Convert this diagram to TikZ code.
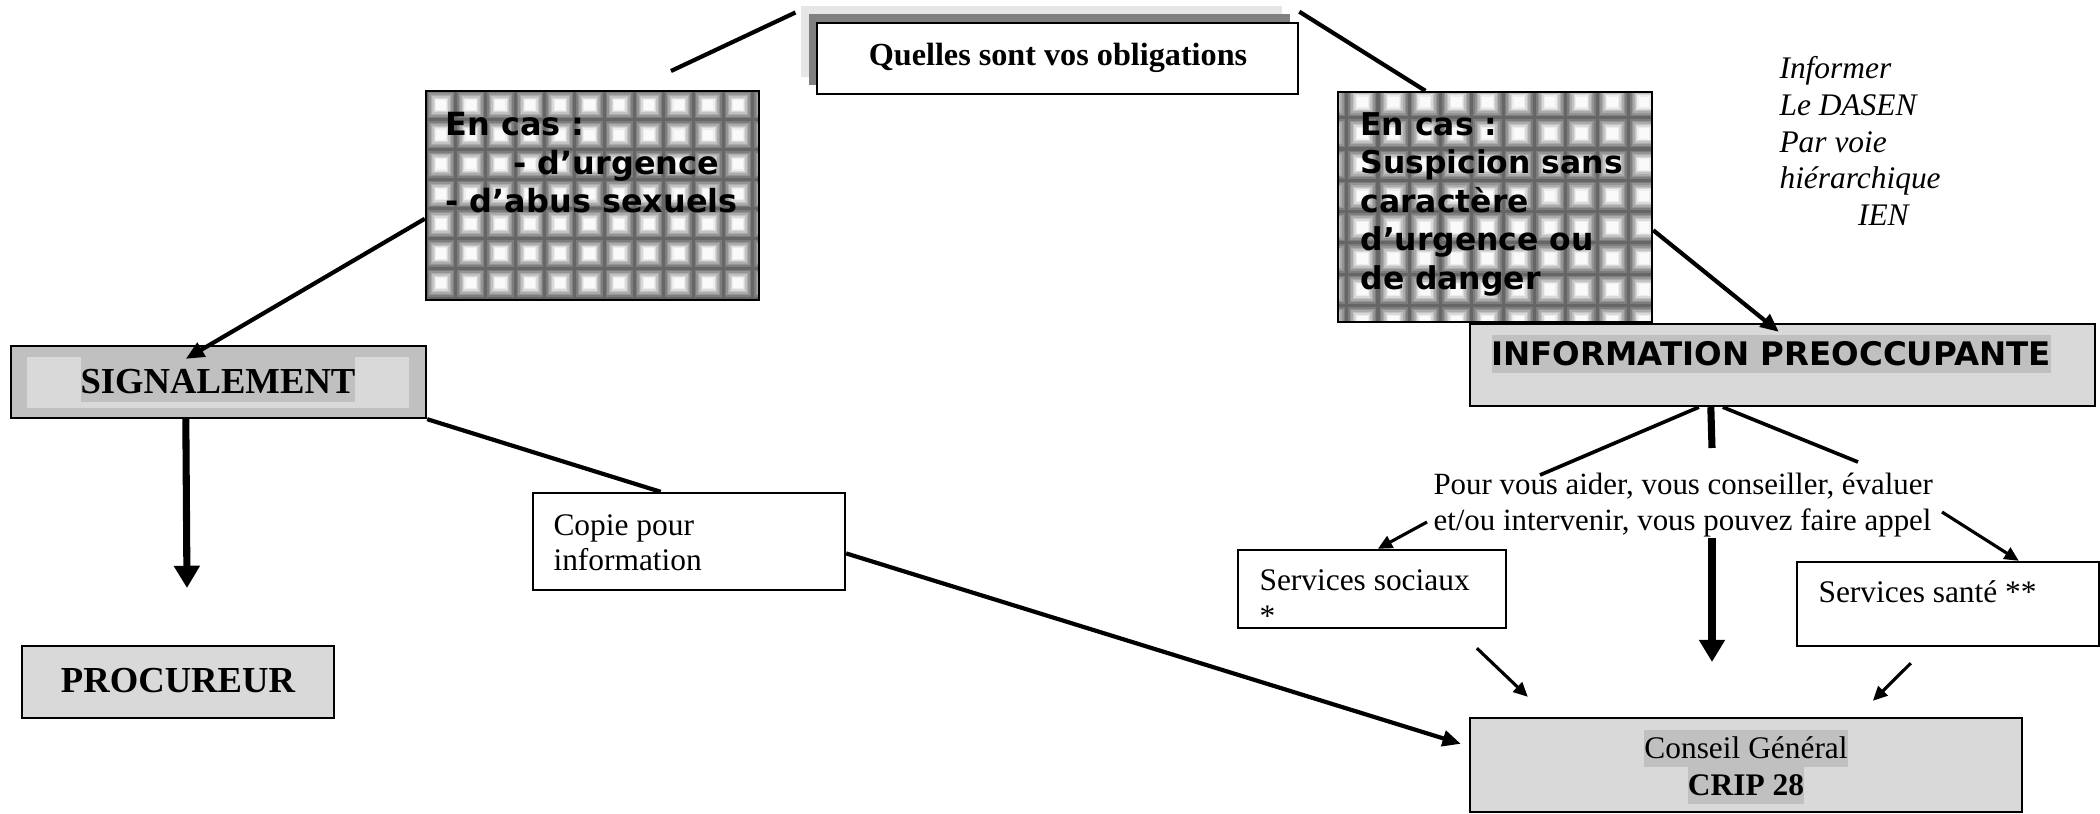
\documentclass[tikz,border=0pt]{standalone}
\usepackage{fontspec}
\setmainfont{Liberation Serif}
\newfontfamily\verd{DejaVu Sans}
\usetikzlibrary{arrows.meta,calc,fit}
\definecolor{gA}{RGB}{192,192,192}
\definecolor{gB}{RGB}{217,217,217}
\definecolor{gL}{RGB}{230,230,230}
\definecolor{gD}{RGB}{128,128,128}
\newcommand{\tp}{\vrule height 10pt depth 0pt width 0pt}
\newcommand{\hlbox}[3]{{\setlength{\fboxsep}{0pt}\colorbox{gA}{\vrule height #1 depth #2 width 0pt #3}}}
\newcommand{\tilegrid}[5]{%
  \foreach \ii in {0,...,#4} {%
    \foreach \jj in {0,...,#5} {%
      \pgfmathsetmacro{\cx}{#1+#3*\ii}%
      \pgfmathsetmacro{\cy}{#2+#3*\jj}%
      \foreach \hh/\cc in {0.5/60,0.45/51,0.40/42,0.35/33,0.30/24,0.25/15,0.21/7,0.17/2} {%
        \fill[black!\cc] (\cx-\hh*#3,\cy-\hh*#3) rectangle (\cx+\hh*#3,\cy+\hh*#3);
      }%
    }%
  }%
}
\tikzset{
  bx/.style={draw, line width=0.9pt, inner sep=0pt},
  txt/.style={inner sep=0pt, font=\fontsize{12}{13.9}\selectfont},
  conn/.style={line width=1.6pt},
  arr/.style={line width=1.6pt, -{Triangle[length=7pt,width=6pt]}},
  tarr/.style={line width=2.7pt, -{Triangle[length=8.5pt,width=9.5pt]}},
  sarr/.style={line width=1.2pt, -{Triangle[length=5.5pt,width=5pt]}},
}
\begin{document}
\begin{tikzpicture}[x=0.382pt,y=-0.382pt]
\useasboundingbox (0,0) rectangle (2100,813);

% ---- title
\node[inner sep=0pt, fill=gL, fit={(801,6)(1282,77)}] (tshL) {};
\node[inner sep=0pt, fill=gD, fit={(809,14)(1290,85)}] (tshD) {};
\node[bx, fill=white, line width=1pt, fit={(817,23)(1298,94)}] (title) {};
\node[inner sep=0pt, anchor=base, font=\fontsize{12.3}{14}\selectfont\bfseries] (ttxt) at (1058,65) {Quelles sont vos obligations};

% ---- left pattern box
\begin{scope}
  \clip (426,91) rectangle (759,300);
  \fill[black!60] (426,91) rectangle (759,300);
  \tilegrid{441}{105}{29.7}{11}{7}
\end{scope}
\node[bx, fit={(426,91)(759,300)}] (lb) {};
\node[inner sep=0pt, anchor=north west, align=left, font=\verd\bfseries\fontsize{12.2}{14.8}\selectfont] (lbtxt) at (445,108.8)
  {\tp En cas :\\\hspace*{26pt}- d’urgence\\- d’abus sexuels};

% ---- right pattern box
\begin{scope}
  \clip (1338,92) rectangle (1652,322);
  \fill[black!60] (1338,92) rectangle (1652,322);
  \tilegrid{1331}{102}{31.3}{10}{7}
\end{scope}
\node[bx, fit={(1338,92)(1652,322)}] (rb) {};
\node[inner sep=0pt, anchor=north west, align=left, font=\verd\bfseries\fontsize{12}{14.7}\selectfont] (rbtxt) at (1360,108.8)
  {\tp En cas :\\Suspicion sans\\caractère\\d’urgence ou\\de danger};

% ---- italic note
\node[txt, anchor=north west, align=left, font=\fontsize{12}{14.04}\selectfont\itshape] (ital) at (1779,51.8)
  {\tp Informer\\Le DASEN\\Par voie\\hiérarchique\\\hspace*{30pt}IEN};

% ---- SIGNALEMENT
\node[bx, fill=gA, fit={(11,346)(426,418)}] (sig) {};
\fill[gB] (27,357) rectangle (409,408);
\node[inner sep=0pt, anchor=base, font=\fontsize{14}{16}\selectfont\bfseries] (sigtxt) at (218,393)
  {\hlbox{13.8pt}{3.4pt}{SIGNALEMENT}};

% ---- PROCUREUR
\node[bx, fill=gB, fit={(22,646)(334,718)}] (proc) {};
\node[inner sep=0pt, anchor=base, font=\fontsize{14}{16}\selectfont\bfseries] (proctxt) at (178,692) {PROCUREUR};

% ---- Copie
\node[bx, fill=white, fit={(533,493)(845,590)}] (copie) {};
\node[txt, anchor=north west, align=left, font=\fontsize{12}{13.4}\selectfont] (copietxt) at (553,508.8)
  {\tp Copie pour\\information};

% ---- INFORMATION PREOCCUPANTE
\node[bx, fill=gB, fit={(1470,324)(2095,406)}] (info) {};
\node[inner sep=0pt, anchor=base west, font=\verd\bfseries\fontsize{12.4}{15}\selectfont] (infotxt) at (1491,365)
  {\hlbox{11.5pt}{3pt}{INFORMATION PREOCCUPANTE}};

% ---- Pour vous aider
\node[txt, anchor=north west, align=left, font=\fontsize{11.8}{13.75}\selectfont] (pourtxt) at (1433,467.8)
  {\tp Pour vous aider, vous conseiller, évaluer\\et/ou intervenir, vous pouvez faire appel};

% ---- services
\node[bx, fill=white, fit={(1238,550)(1506,628)}] (soc) {};
\node[txt, anchor=north west, align=left, font=\fontsize{12}{13.75}\selectfont] (soctxt) at (1259,563.8)
  {\tp Services sociaux\\*};
\node[bx, fill=white, fit={(1797,562)(2099,646)}] (sante) {};
\node[txt, anchor=base west] (santetxt) at (1818,602) {Services santé **};

% ---- Conseil General
\node[bx, fill=gB, fit={(1470,718)(2022,812)}] (conseil) {};
\node[inner sep=0pt, anchor=north, align=center, font=\fontsize{12}{14.13}\selectfont] (constxt) at (1746,729.2)
  {\hlbox{11.07pt}{3.06pt}{Conseil Général}\\\hlbox{11.07pt}{3.06pt}{\bfseries CRIP 28}};

% ---- connectors
\coordinate (tlend) at (671,71);
\draw[conn] ($(tshL.north west)+(-5,7)$) -- (tlend);
\draw[conn] ($(title.north east)+(0,-10)$) -- ($(rb.north west)!0.28!(rb.north east)$);

\draw[arr] ($(lb.north west)!0.61!(lb.south west)$) -- ($(sig.north west)+(176,14)$);
\coordinate (sigend) at (187,588);
\draw[tarr] ($(sig.south west)+(176,0)$) -- (sigend);

\draw[conn] (sig.south east) -- ($(copie.north west)!0.41!(copie.north east)$);
\draw[arr] ($(copie.north east)!0.62!(copie.south east)$) -- ($(conseil.north west)+(-8,27)$);

\draw[arr] ($(rb.north east)!0.6!(rb.south east)$) -- ($(info.north west)+(310,9)$);

\coordinate (ibL) at (1540,475);
\coordinate (ibR) at (1858,462);
\coordinate (ibM) at (1712,448);
\draw[line width=1.4pt] ($(info.south west)+(230,0)$) -- (ibL);
\draw[line width=1.4pt] ($(info.south west)+(254,0)$) -- (ibR);
\draw[line width=2.7pt] ($(info.south west)+(242,0)$) -- (ibM);

\coordinate (socA) at (1427,522);
\draw[sarr] (socA) -- ($(soc.north west)+(141,0)$);
\coordinate (santeA) at (1942,512);
\draw[sarr] (santeA) -- ($(sante.north west)+(223,0)$);

\coordinate (midA) at (1712,538);
\coordinate (midB) at (1712,662);
\draw[tarr] (midA) -- (midB);

\draw[sarr] ($(soc.south west)+(240,19)$) -- ($(conseil.north west)+(59,-20)$);
\draw[sarr] ($(sante.south west)+(115,16)$) -- ($(conseil.north west)+(404,-16)$);
\end{tikzpicture}
\end{document}
